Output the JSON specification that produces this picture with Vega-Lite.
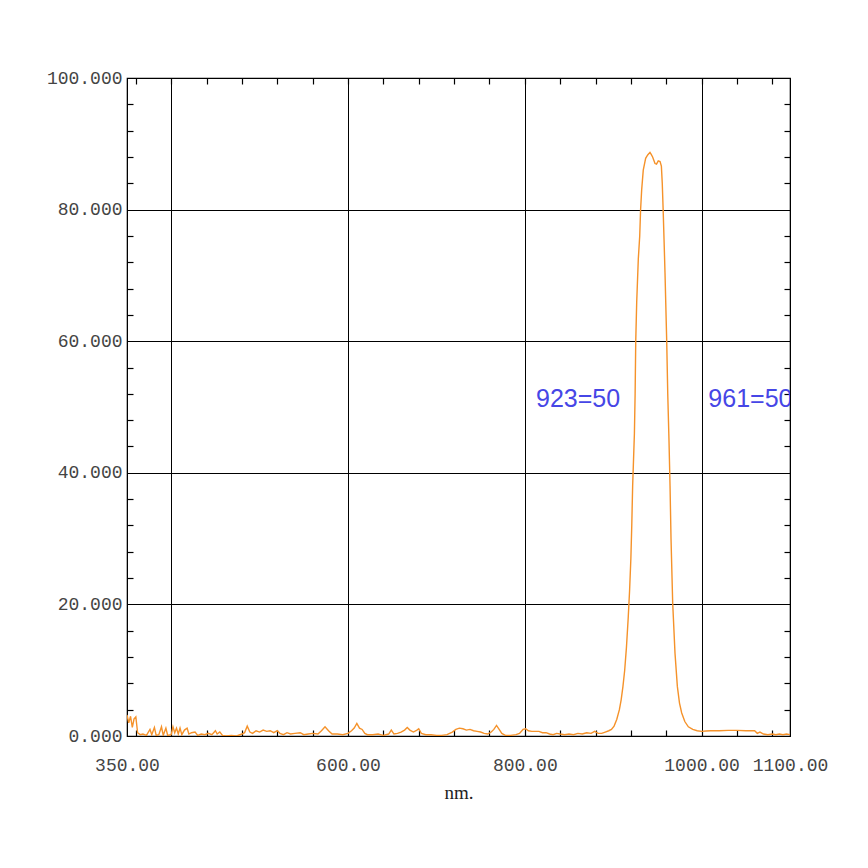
{
  "$schema": "https://vega.github.io/schema/vega-lite/v6.json",
  "description": "Transmission spectrum, band pass around 940 nm",
  "width": 663,
  "height": 658,
  "autosize": "none",
  "padding": {"left": 127, "top": 78, "right": 78, "bottom": 132},
  "background": "white",
  "config": {
    "view": {"stroke": "#000", "strokeWidth": 1.2},
    "axis": {
      "labelFont": "Liberation Mono",
      "labelFontSize": 18,
      "labelColor": "#444"
    }
  },
  "datasets": {
    "spectrum": [
      {"nm": 350, "t": 3.2}, {"nm": 352, "t": 2.0}, {"nm": 354, "t": 3.0}, {"nm": 356, "t": 1.3},
      {"nm": 358, "t": 2.6}, {"nm": 360, "t": 2.9}, {"nm": 362, "t": 0.5}, {"nm": 365, "t": 0.2},
      {"nm": 368, "t": 0.3}, {"nm": 372, "t": 0.1}, {"nm": 376, "t": 1.0}, {"nm": 378, "t": 0.2},
      {"nm": 381, "t": 1.3}, {"nm": 383, "t": 0.1}, {"nm": 386, "t": 0.2}, {"nm": 389, "t": 1.4},
      {"nm": 391, "t": 0.1}, {"nm": 394, "t": 1.2}, {"nm": 396, "t": 0.1}, {"nm": 400, "t": 0.2},
      {"nm": 402, "t": 1.4}, {"nm": 404, "t": 0.5}, {"nm": 406, "t": 1.2}, {"nm": 408, "t": 0.3},
      {"nm": 410, "t": 1.2}, {"nm": 412, "t": 0.2}, {"nm": 415, "t": 0.9}, {"nm": 418, "t": 1.2},
      {"nm": 420, "t": 0.3}, {"nm": 423, "t": 0.5}, {"nm": 427, "t": 0.6}, {"nm": 430, "t": 0.1},
      {"nm": 434, "t": 0.3}, {"nm": 438, "t": 0.2}, {"nm": 442, "t": 0.4}, {"nm": 446, "t": 0.2},
      {"nm": 450, "t": 0.8}, {"nm": 452, "t": 0.3}, {"nm": 455, "t": 0.6}, {"nm": 458, "t": 0.1},
      {"nm": 462, "t": 0.0}, {"nm": 468, "t": 0.1}, {"nm": 474, "t": 0.0}, {"nm": 480, "t": 0.3},
      {"nm": 483, "t": 0.5}, {"nm": 486, "t": 1.5}, {"nm": 489, "t": 0.6}, {"nm": 492, "t": 0.4},
      {"nm": 496, "t": 0.8}, {"nm": 500, "t": 0.6}, {"nm": 504, "t": 0.9}, {"nm": 508, "t": 0.7},
      {"nm": 512, "t": 0.8}, {"nm": 516, "t": 0.5}, {"nm": 520, "t": 0.8}, {"nm": 523, "t": 0.4},
      {"nm": 527, "t": 0.2}, {"nm": 531, "t": 0.5}, {"nm": 535, "t": 0.3}, {"nm": 540, "t": 0.4},
      {"nm": 546, "t": 0.5}, {"nm": 550, "t": 0.2}, {"nm": 555, "t": 0.3}, {"nm": 560, "t": 0.4},
      {"nm": 566, "t": 0.3}, {"nm": 570, "t": 0.8}, {"nm": 574, "t": 1.4}, {"nm": 578, "t": 0.8},
      {"nm": 582, "t": 0.3}, {"nm": 588, "t": 0.3}, {"nm": 594, "t": 0.2}, {"nm": 600, "t": 0.4},
      {"nm": 604, "t": 0.8}, {"nm": 607, "t": 1.2}, {"nm": 610, "t": 1.9}, {"nm": 613, "t": 1.2},
      {"nm": 616, "t": 1.0}, {"nm": 619, "t": 0.4}, {"nm": 622, "t": 0.2}, {"nm": 628, "t": 0.2},
      {"nm": 634, "t": 0.3}, {"nm": 640, "t": 0.1}, {"nm": 646, "t": 0.3}, {"nm": 649, "t": 0.9},
      {"nm": 652, "t": 0.3}, {"nm": 656, "t": 0.4}, {"nm": 660, "t": 0.6}, {"nm": 664, "t": 0.9},
      {"nm": 667, "t": 1.3}, {"nm": 670, "t": 0.9}, {"nm": 674, "t": 0.6}, {"nm": 678, "t": 0.9},
      {"nm": 680, "t": 1.1}, {"nm": 683, "t": 0.4}, {"nm": 688, "t": 0.2}, {"nm": 694, "t": 0.2},
      {"nm": 700, "t": 0.1}, {"nm": 706, "t": 0.1}, {"nm": 712, "t": 0.2}, {"nm": 718, "t": 0.6},
      {"nm": 722, "t": 1.0}, {"nm": 726, "t": 1.2}, {"nm": 730, "t": 1.1}, {"nm": 734, "t": 0.9},
      {"nm": 738, "t": 1.0}, {"nm": 742, "t": 0.8}, {"nm": 746, "t": 0.7}, {"nm": 750, "t": 0.6},
      {"nm": 754, "t": 0.4}, {"nm": 758, "t": 0.3}, {"nm": 762, "t": 0.6}, {"nm": 765, "t": 1.0},
      {"nm": 768, "t": 1.6}, {"nm": 771, "t": 1.0}, {"nm": 774, "t": 0.4}, {"nm": 778, "t": 0.1},
      {"nm": 784, "t": 0.1}, {"nm": 790, "t": 0.2}, {"nm": 794, "t": 0.4}, {"nm": 798, "t": 1.0},
      {"nm": 801, "t": 1.1}, {"nm": 804, "t": 0.8}, {"nm": 808, "t": 0.7}, {"nm": 812, "t": 0.7},
      {"nm": 816, "t": 0.7}, {"nm": 820, "t": 0.5}, {"nm": 824, "t": 0.5}, {"nm": 828, "t": 0.3},
      {"nm": 832, "t": 0.2}, {"nm": 836, "t": 0.4}, {"nm": 840, "t": 0.3}, {"nm": 845, "t": 0.2},
      {"nm": 850, "t": 0.3}, {"nm": 855, "t": 0.2}, {"nm": 860, "t": 0.4}, {"nm": 865, "t": 0.3},
      {"nm": 870, "t": 0.5}, {"nm": 875, "t": 0.4}, {"nm": 879, "t": 0.7}, {"nm": 883, "t": 0.4},
      {"nm": 887, "t": 0.4}, {"nm": 891, "t": 0.6}, {"nm": 895, "t": 0.8}, {"nm": 898, "t": 1.0},
      {"nm": 901, "t": 1.5}, {"nm": 904, "t": 2.5}, {"nm": 907, "t": 4.0}, {"nm": 909, "t": 5.5},
      {"nm": 911, "t": 7.5}, {"nm": 913, "t": 10.0}, {"nm": 915, "t": 13.5}, {"nm": 917, "t": 18.0},
      {"nm": 918.5, "t": 22.0}, {"nm": 920, "t": 27.0}, {"nm": 921, "t": 32.0}, {"nm": 922, "t": 38.0},
      {"nm": 923, "t": 42.0}, {"nm": 924, "t": 46.0}, {"nm": 924.8, "t": 52.0}, {"nm": 925.5, "t": 60.0},
      {"nm": 926.6, "t": 66.0}, {"nm": 928.4, "t": 72.5}, {"nm": 930, "t": 76.0}, {"nm": 931, "t": 80.0},
      {"nm": 932.2, "t": 83.0}, {"nm": 934, "t": 86.0}, {"nm": 936.7, "t": 87.8}, {"nm": 939, "t": 88.3},
      {"nm": 941.6, "t": 88.7}, {"nm": 943, "t": 88.4}, {"nm": 944.6, "t": 88.0}, {"nm": 947.3, "t": 87.0},
      {"nm": 949, "t": 86.9}, {"nm": 951, "t": 87.4}, {"nm": 953, "t": 87.3}, {"nm": 954.5, "t": 86.6},
      {"nm": 955.5, "t": 84.0}, {"nm": 956.5, "t": 80.0}, {"nm": 957.5, "t": 75.5}, {"nm": 958.6, "t": 70.4},
      {"nm": 960.5, "t": 60.2}, {"nm": 961.7, "t": 52.0}, {"nm": 963.1, "t": 45.0}, {"nm": 964.3, "t": 38.0},
      {"nm": 965.4, "t": 30.0}, {"nm": 967.3, "t": 20.2}, {"nm": 969.9, "t": 12.6}, {"nm": 972.6, "t": 7.5},
      {"nm": 975, "t": 5.0}, {"nm": 977.5, "t": 3.5}, {"nm": 981, "t": 2.2}, {"nm": 985, "t": 1.4},
      {"nm": 990, "t": 1.0}, {"nm": 995, "t": 0.8}, {"nm": 1000, "t": 0.7}, {"nm": 1005, "t": 0.75},
      {"nm": 1010, "t": 0.8}, {"nm": 1020, "t": 0.8}, {"nm": 1030, "t": 0.85}, {"nm": 1040, "t": 0.85},
      {"nm": 1050, "t": 0.8}, {"nm": 1060, "t": 0.8}, {"nm": 1063, "t": 0.4}, {"nm": 1066, "t": 0.6},
      {"nm": 1070, "t": 0.3}, {"nm": 1075, "t": 0.2}, {"nm": 1080, "t": 0.3}, {"nm": 1084, "t": 0.2},
      {"nm": 1088, "t": 0.3}, {"nm": 1092, "t": 0.2}, {"nm": 1096, "t": 0.3}, {"nm": 1100, "t": 0.2}
    ],
    "cutoffs": [
      {"nm": 812.7, "t": 50, "label": "923=50"},
      {"nm": 1007.6, "t": 50, "label": "961=50"}
    ]
  },
  "layer": [
    {
      "data": {"name": "spectrum"},
      "mark": {"type": "line", "color": "#f5922a", "strokeWidth": 1.4, "clip": true},
      "encoding": {
        "x": {
          "field": "nm",
          "type": "quantitative",
          "scale": {"domain": [350, 1100], "nice": false, "zero": false},
          "axis": {
            "orient": "bottom",
            "values": [350, 400, 600, 800, 1000, 1100],
            "labelExpr": "datum.value == 400 ? '' : format(datum.value, '.2f')",
            "grid": true,
            "gridColor": "#000",
            "gridOpacity": 1,
            "gridWidth": 1,
            "ticks": false,
            "domain": false,
            "labelPadding": 20,
            "labelFlush": false,
            "labelOverlap": false,
            "labelBound": false,
            "title": "nm.",
            "titleFont": "Liberation Serif",
            "titleFontSize": 19,
            "titleFontWeight": "normal",
            "titleColor": "#222",
            "titlePadding": 9
          }
        },
        "y": {
          "field": "t",
          "type": "quantitative",
          "scale": {"domain": [0, 100], "nice": false},
          "axis": {
            "orient": "left",
            "values": [0, 20, 40, 60, 80, 100],
            "format": ".3f",
            "grid": true,
            "gridColor": "#000",
            "gridOpacity": 1,
            "gridWidth": 1,
            "ticks": false,
            "domain": false,
            "labelPadding": 5,
            "title": null
          }
        }
      }
    },
    {
      "data": {"name": "cutoffs"},
      "transform": [{"filter": "datum.label == '923=50'"}],
      "mark": {"type": "text", "align": "left", "baseline": "alphabetic", "font": "Liberation Sans", "fontSize": 25, "color": "#4646e6", "clip": true},
      "encoding": {
        "x": {
          "field": "nm",
          "type": "quantitative",
          "axis": {
            "orient": "bottom",
            "values": [360, 400, 440, 480, 520, 560, 600, 640, 680, 720, 760, 800, 840, 880, 920, 960, 1000, 1040, 1080],
            "ticks": true, "tickSize": -6, "tickColor": "#000", "tickWidth": 1.2,
            "labels": false, "domain": false, "grid": false, "title": null
          }
        },
        "y": {
          "field": "t",
          "type": "quantitative",
          "axis": {
            "orient": "left",
            "values": [4, 8, 12, 16, 24, 28, 32, 36, 44, 48, 52, 56, 64, 68, 72, 76, 84, 88, 92, 96],
            "ticks": true, "tickSize": -6, "tickColor": "#000", "tickWidth": 1.2,
            "labels": false, "domain": false, "grid": false, "title": null
          }
        },
        "text": {"field": "label"}
      }
    },
    {
      "data": {"name": "cutoffs"},
      "transform": [{"filter": "datum.label == '961=50'"}],
      "mark": {"type": "text", "align": "left", "baseline": "alphabetic", "font": "Liberation Sans", "fontSize": 25, "color": "#4646e6", "clip": true},
      "encoding": {
        "x": {
          "field": "nm",
          "type": "quantitative",
          "axis": {
            "orient": "top",
            "values": [360, 400, 440, 480, 520, 560, 600, 640, 680, 720, 760, 800, 840, 880, 920, 960, 1000, 1040, 1080],
            "ticks": true, "tickSize": -6, "tickColor": "#000", "tickWidth": 1.2,
            "labels": false, "domain": false, "grid": false, "title": null
          }
        },
        "y": {
          "field": "t",
          "type": "quantitative",
          "axis": {
            "orient": "right",
            "values": [4, 8, 12, 16, 24, 28, 32, 36, 44, 48, 52, 56, 64, 68, 72, 76, 84, 88, 92, 96],
            "ticks": true, "tickSize": -6, "tickColor": "#000", "tickWidth": 1.2,
            "labels": false, "domain": false, "grid": false, "title": null
          }
        },
        "text": {"field": "label"}
      }
    }
  ],
  "resolve": {"axis": {"x": "independent", "y": "independent"}}
}
